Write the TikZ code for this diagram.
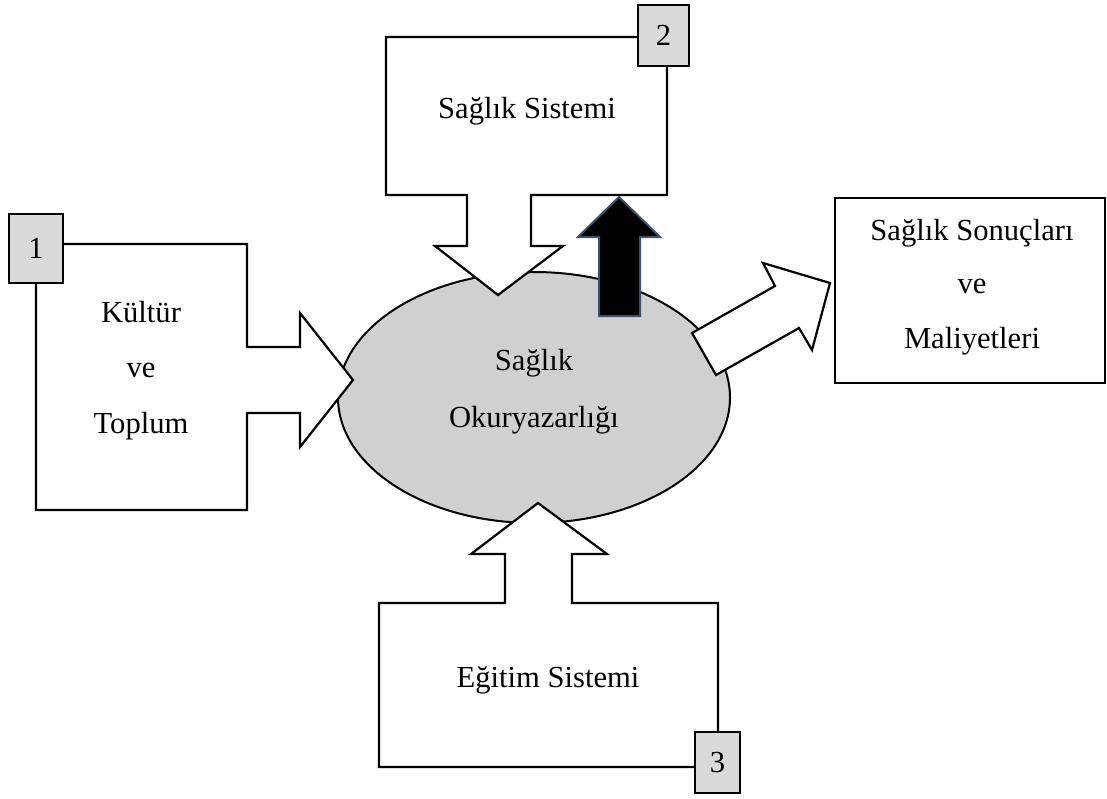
\documentclass[tikz,border=0pt]{standalone}
\usepackage{fontspec}
\setmainfont{Liberation Serif}
\usetikzlibrary{shapes.geometric}
\definecolor{okGray}{RGB}{208,208,208}
\definecolor{numGray}{RGB}{217,217,217}
\definecolor{arrowEdge}{RGB}{60,80,110}

\begin{document}
\begin{tikzpicture}[x=0.5pt, y=-0.5pt,
  outline/.style={draw, line width=1.1pt, fill=white, line join=miter},
  numbox/.style={draw, line width=1.1pt, fill=numGray},
  lbl/.style={anchor=base, inner sep=0pt, font=\fontsize{15.3}{18}\selectfont},
  numlbl/.style={anchor=center, inner sep=0pt, font=\fontsize{15.3}{18}\selectfont}]
  \useasboundingbox (0,0) rectangle (1107,798);
  % central ellipse
  \node[ellipse, draw, line width=1pt, fill=okGray, minimum width=196pt,
        minimum height=125.5pt, inner sep=0pt] (sok) at (534,397.5) {};
  % boxes with their arrows
  \draw[outline] (36,244) -- (247,244) -- (247,347) -- (300,347) -- (300,313)
    -- (353,380) -- (300,447) -- (300,413) -- (247,413) -- (247,510) -- (36,510) -- cycle;
  \draw[outline] (386,37) -- (667,37) -- (667,195) -- (531,195) -- (531,246)
    -- (563,246) -- (498,295) -- (435,246) -- (467,246) -- (467,195) -- (386,195) -- cycle;
  \draw[outline] (379,603) -- (505,603) -- (505,554) -- (471,554) -- (538,503)
    -- (607,554) -- (572,554) -- (572,603) -- (718,603) -- (718,767) -- (379,767) -- cycle;
  \draw[outline] (835,198) rectangle (1105,383);
  % outgoing arrows
  \draw[fill=black, draw=arrowEdge, line width=1pt] (599,316) -- (599,237) -- (578,237)
    -- (619,197) -- (660,237) -- (640,237) -- (640,316) -- cycle;
  \draw[outline] (692,333) -- (775,286) -- (763,263) -- (830,283) -- (812,350)
    -- (799,328) -- (716,375) -- cycle;
  % number boxes
  \draw[numbox] (9,214) rectangle (63,283);
  \draw[numbox] (638,5) rectangle (689,66);
  \draw[numbox] (695,732) rectangle (740,793);
  \node[numlbl] (n1) at (36,248.5) {1};
  \node[numlbl] (n2) at (663.5,35.5) {2};
  \node[numlbl] (n3) at (717.5,762.5) {3};
  % labels
  \node[lbl] (kul) at (141,322) {Kültür};
  \node[lbl] (kulve) at (141,377) {ve};
  \node[lbl] (top) at (141,433) {Toplum};
  \node[lbl] (sis) at (527,118) {Sağlık Sistemi};
  \node[lbl] (ok1) at (534,370) {Sağlık};
  \node[lbl] (ok2) at (534,427) {Okuryazarlığı};
  \node[lbl] (egi) at (548,687) {Eğitim Sistemi};
  \node[lbl] (son) at (972,240) {Sağlık Sonuçları};
  \node[lbl] (sonve) at (972,293) {ve};
  \node[lbl] (mal) at (972,348) {Maliyetleri};
\end{tikzpicture}
\end{document}
